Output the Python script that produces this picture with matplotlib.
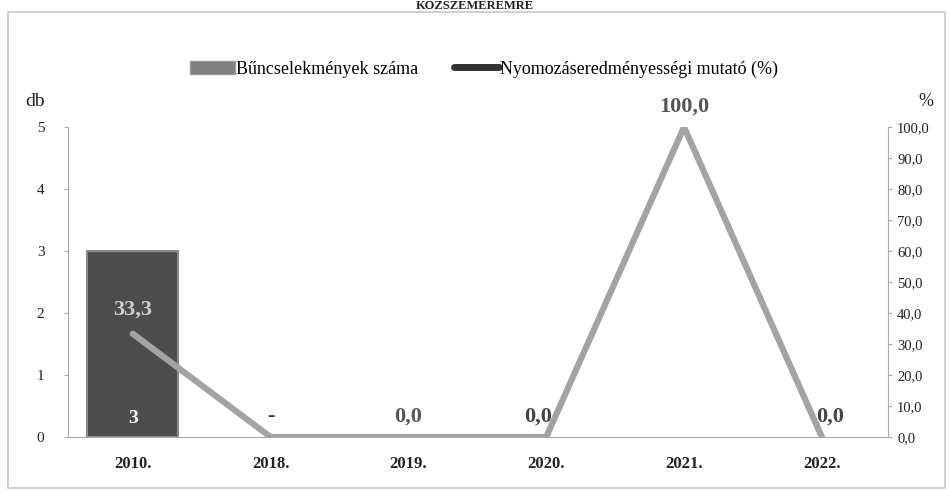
import matplotlib
matplotlib.use("Agg")
import matplotlib.pyplot as plt
from matplotlib.patches import Rectangle
from matplotlib.lines import Line2D
from matplotlib.patches import Patch

# ── data ────────────────────────────────────────────────
years = ["2010.", "2018.", "2019.", "2020.", "2021.", "2022."]
crimes = [3, 0, 0, 0, 0, 0]                     # Bűncselekmények száma (db)
rate = [33.3, 0.0, 0.0, 0.0, 100.0, 0.0]        # Nyomozáseredményességi mutató (%)
rate_labels = ["33,3", "-", "0,0", "0,0", "100,0", "0,0"]
left_ticks = [0, 1, 2, 3, 4, 5]
right_ticks = [0, 10, 20, 30, 40, 50, 60, 70, 80, 90, 100]

plt.rcParams["font.family"] = ["Liberation Serif", "DejaVu Serif"]

fig = plt.figure(figsize=(9.5, 4.97), dpi=100)
fig.patches.append(Rectangle((8 / 950, 1 - 488 / 497), 937 / 950, 476 / 497,
                             transform=fig.transFigure, fill=False,
                             ec="#c8c8c8", lw=1.2))
fig.text(0.5, 0.999, "KÖZSZEMÉREMRE", ha="center", va="top",
         fontsize=9, fontweight="bold", color="#222222")

ax = fig.add_axes([68 / 950, 1 - 437 / 497, 820 / 950, 310 / 497])
x = list(range(len(years)))
# only bars with a value are drawn (zero bars stay invisible, as in the original)
bx = [i for i, v in zip(x, crimes) if v > 0]
bv = [v for v in crimes if v > 0]
ax.bar(bx, bv, width=0.66, color="#4d4d4d", edgecolor="#8a8a8a", lw=1.5, zorder=2)
ax.set_xlim(-0.47, 5.48)
ax.set_ylim(0, 5)
ax.set_yticks(left_ticks)
ax.set_yticklabels([str(t) for t in left_ticks], fontsize=11, color="#222222")
ax.set_xticks(x)
ax.set_xticklabels(years, fontsize=12, fontweight="bold", color="#222222")
ax.tick_params(axis="x", length=0, pad=14)
ax.tick_params(axis="y", length=3, color="#aaaaaa", pad=14)
for s in ["top", "right"]:
    ax.spines[s].set_visible(False)
ax.spines["left"].set_color("#aaaaaa")
ax.spines["bottom"].set_color("#aaaaaa")

# bar value label
ax.text(0, 0.3, str(crimes[0]), ha="center", va="center", fontsize=14,
        fontweight="bold", color="white", zorder=5)

ax2 = ax.twinx()
ax2.plot(x, rate, color="#a3a3a3", lw=4.5, solid_capstyle="round", zorder=4)
ax2.set_ylim(0, 100)
ax2.set_yticks(right_ticks)
ax2.set_yticklabels([f"{t},0" for t in right_ticks], fontsize=10.5, color="#222222")
ax2.tick_params(axis="y", length=3, color="#aaaaaa")
for s in ["top", "left", "bottom"]:
    ax2.spines[s].set_visible(False)
ax2.spines["right"].set_color("#aaaaaa")

# line value labels (the line runs over some of them, as in the original)
offsets = [(0, 4.5, "#cfcfcf"), (0, 3.5, "#333333"), (0, 3.5, "#555555"),
           (-0.06, 3.5, "#444444"), (0, 3.5, "#555555"), (0.06, 3.5, "#444444")]
for i, lab in enumerate(rate_labels):
    dx, dy, c = offsets[i]
    ax2.text(i + dx, rate[i] + dy, lab, ha="center", va="bottom",
             fontsize=16, fontweight="bold", color=c, zorder=3)

fig.text(25 / 950, 1 - 102 / 497, "db", fontsize=14, ha="left", va="center", color="#222222")
fig.text(926 / 950, 1 - 102 / 497, "%", fontsize=13, ha="center", va="center", color="#222222")

handles = [Patch(facecolor="#808080", edgecolor="#9a9a9a"),
           Line2D([0], [0], color="#333333", lw=5, solid_capstyle="round")]
fig.legend(handles, ["Bűncselekmények száma", "Nyomozáseredményességi mutató (%)"],
           loc="center", bbox_to_anchor=(484 / 950, 1 - 69 / 497), ncol=2, frameon=False,
           fontsize=13, handlelength=2.5, handletextpad=0.05, columnspacing=2.0)

fig.savefig("out.png", dpi=100)
